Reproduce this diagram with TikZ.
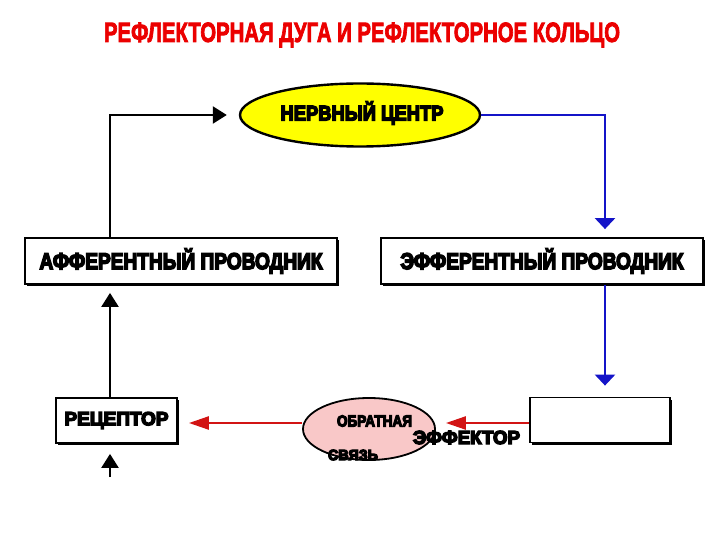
\documentclass[tikz,border=0pt]{standalone}
\usepackage{fontspec}
\usepackage{graphicx}
\setmainfont{Liberation Sans}
\newfontfamily\heavy{Liberation Sans}
\usetikzlibrary{arrows.meta,shapes.geometric,shadows}
\definecolor{titlered}{RGB}{235,0,0}
\definecolor{arrred}{RGB}{210,20,20}
\definecolor{arrblue}{RGB}{20,20,200}
\definecolor{pinkfill}{RGB}{249,200,200}
\definecolor{ncyellow}{RGB}{255,255,0}
% width, size, stroke, text
\newcommand{\fitt}[4]{\resizebox{#1bp}{\height}{\heavy\bfseries\fontsize{#2}{#2}\selectfont
  \special{pdf:code 2 Tr #3 w}#4\special{pdf:code 0 Tr}}}
\tikzset{
  box/.style={draw=black, line width=1.8bp, fill=white, inner sep=0pt,
    drop shadow={shadow xshift=2.2bp, shadow yshift=-2.2bp, fill=black, opacity=1}},
  lbl/.style={inner sep=0pt, text=black},
  blk/.style={draw=black, line width=2.3bp, -{Triangle[length=14bp,width=17bp]}},
  blu/.style={draw=arrblue, line width=2.4bp, -{Triangle[length=11bp,width=20bp]}},
  rdd/.style={draw=arrred, line width=2.4bp, -{Triangle[length=20bp,width=13bp]}},
}
\begin{document}
\begin{tikzpicture}[x=1bp,y=-1bp]
\useasboundingbox (0,0) rectangle (720,540);
% title
\node[inner sep=0pt, text=titlered] (title) at (362,35)
  {\fitt{516}{28}{0.9}{РЕФЛЕКТОРНАЯ ДУГА И РЕФЛЕКТОРНОЕ КОЛЬЦО}};
% nervous centre
\node[ellipse, draw=black, line width=2.4bp, fill=ncyellow, minimum width=240bp,
  minimum height=63bp, inner sep=0pt] (nc) at (360,115) {};
\node[lbl] (nct) at (362,113) {\fitt{163}{21}{1.5}{НЕРВНЫЙ ЦЕНТР}};
% conductors
\node[box, minimum width=312bp, minimum height=46bp] (aff) at (181,261)
  {\fitt{283}{23}{1.6}{АФФЕРЕНТНЫЙ ПРОВОДНИК}};
\node[box, minimum width=322bp, minimum height=46bp] (eff) at (542,261)
  {\fitt{283}{23}{1.6}{ЭФФЕРЕНТНЫЙ ПРОВОДНИК}};
% receptor
\node[box, minimum width=121bp, minimum height=45bp] (rec) at (116.5,420.5)
  {\fitt{104}{19}{1.4}{РЕЦЕПТОР}};
% effector
\node[box, minimum width=140bp, minimum height=45bp] (effr) at (600,420) {};
% feedback
\node[ellipse, draw=black, line width=1.8bp, fill=pinkfill, minimum width=132bp,
  minimum height=62bp, inner sep=0pt] (fb) at (369,429) {};
\node[lbl] (fbt1) at (374.5,421) {\fitt{75}{16}{1.2}{ОБРАТНАЯ}};
\node[lbl] (fbt2) at (353,455) {\fitt{50}{15}{1.2}{СВЯЗЬ}};
\node[lbl] (efft) at (466.5,437.5) {\fitt{107}{19}{1.4}{ЭФФЕКТОР}};
% helper coordinates
\coordinate (kl) at (110,0);
\coordinate (kr) at (605,0);
\coordinate (kb) at (110,477);
% connectors
\draw[blk, shorten >=12bp] (aff.north -| kl) |- (nc.west);
\draw[blu, shorten >=8bp] (nc.east) -| (eff.north -| kr);
\draw[blu, shorten >=11bp] (eff.south -| kr) -- (effr.north -| kr);
\draw[rdd, shorten >=10bp] (effr.west) ++(0,3) coordinate (rr) -- (rr -| fb.east);
\draw[rdd, shorten >=11bp] (fb.west |- rr) -- (rec.east |- rr);
\draw[blk, shorten >=8bp] (rec.north -| kl) -- (aff.south -| kl);
\draw[blk, shorten >=10bp] (kb) -- (rec.south -| kb);
\end{tikzpicture}
\end{document}
